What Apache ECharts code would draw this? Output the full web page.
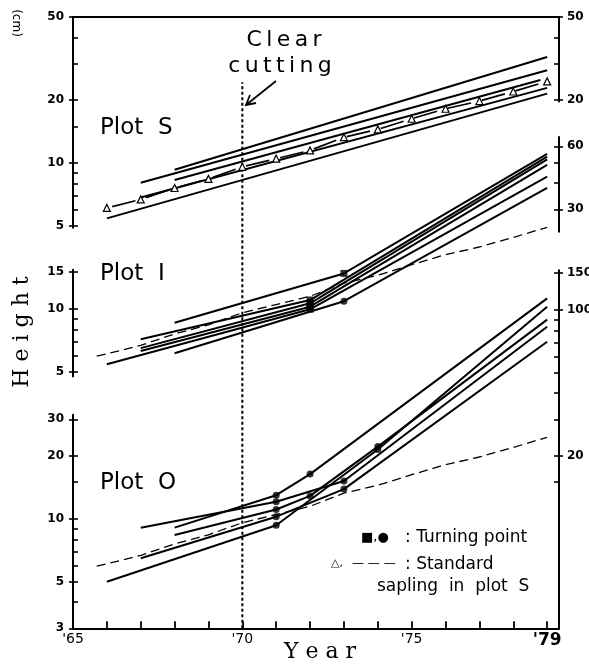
<!DOCTYPE html>
<html>
<head>
<meta charset="utf-8">
<script src="https://cdn.jsdelivr.net/npm/echarts@6/dist/echarts.min.js"></script>
<style>
  html, body { margin: 0; padding: 0; background: #fff; }
  #chart { width: 589px; height: 664px; }
</style>
</head>
<body>
<div id="chart"></div>
<script>
// ---- shared year axis ----
const yearMin = 65;
const yearMax = 79.35;
const yearTicks = [65, 66, 67, 68, 69, 70, 71, 72, 73, 74, 75, 76, 77, 78, 79];
const yearLabels = [65, 70, 75, 79];
const cutYear = 70;

// ---- standard sapling in plot S (height, cm) ----
const saplingYears = [66, 67, 68, 69, 70, 71, 72, 73, 74, 75, 76, 77, 78, 79];
const saplingHeights = [6.1, 6.7, 7.6, 8.4, 9.6, 10.5, 11.5, 13.3, 14.5, 16.3, 18.2, 19.8, 22.0, 24.6];
const saplingDashStart = [65.7, 5.95];

// ---- Plot S saplings: [year, height] ----
const plotS = [
  [[68, 9.3], [79, 32.2]],
  [[67, 8.05], [79, 27.8]],
  [[68, 8.3], [78.8, 25.0]],
  [[67, 6.85], [79, 22.9]],
  [[66, 5.44], [79, 21.5]]
];

// ---- Plot I saplings (inner vertices are turning points) ----
const plotI = [
  [[68, 8.6], [73, 14.8], [79, 55.2]],
  [[67, 7.16], [72, 11.04], [79, 53.6]],
  [[67, 6.5], [72, 10.65], [79, 52.0]],
  [[67, 6.3], [72, 10.26], [79, 48.9]],
  [[66, 5.44], [72, 9.97], [79, 43.0]],
  [[68, 6.14], [73, 10.9], [79, 38.0]]
];
const plotIMarks = ['rect', 'rect', 'rect', 'rect', 'rect', 'circle'];

// ---- Plot O saplings ----
const plotO = [
  [[68, 9.09], [71, 13.0], [72, 16.4], [79, 113.7]],
  [[67, 9.09], [71, 12.1], [73, 15.2], [79, 83.2]],
  [[68, 8.38], [71, 11.1], [72, 12.9], [74, 22.2], [79, 89.9]],
  [[67, 6.49], [71, 10.26], [73, 13.9], [79, 70.5]],
  [[66, 5.01], [71, 9.33], [74, 21.5], [79, 103.6]]
];
const plotOMarks = ['circle', 'circle', 'circle', 'circle', 'circle'];

// ---- axis segments: [min, max], labelled values, tick values ----
const sLeftRange = [4.9, 50],  sLeftLabels = [5, 10, 20, 50],  sLeftTicks = [5, 6, 7, 8, 9, 10, 15, 20, 30, 40, 50];
const sRightRange = [19.7, 50], sRightLabels = [20, 50],       sRightTicks = [20, 30, 40, 50];
const iLeftRange = [4.75, 15.4], iLeftLabels = [5, 10, 15],    iLeftTicks = [5, 6, 7, 8, 9, 10, 15];
const iRightRange = [23.4, 66.5], iRightLabels = [30, 60],     iRightTicks = [30, 40, 50, 60];
const oLeftRange = [3, 31.5],  oLeftLabels = [3, 5, 10, 20, 30], oLeftTicks = [3, 4, 5, 6, 7, 8, 9, 10, 15, 20, 30];
const oRightRange = [3, 155],  oRightLabels = [20, 100, 150],  oRightTicks = [15, 20, 30, 40, 50, 60, 70, 80, 90, 100, 150];
const cutLineRange = [3, 1230];

// ---- layout: every panel uses the same log scale ----
const PX_PER_DECADE = 209;
const PLOT_LEFT = 73, PLOT_RIGHT = 559;
const anchorS = [50, 17], anchorI = [10, 309], anchorO = [10, 519];

function band(anchor, range) {
  return {
    top: anchor[1] - PX_PER_DECADE * Math.log10(range[1] / anchor[0]),
    height: PX_PER_DECADE * Math.log10(range[1] / range[0])
  };
}

const grid = [], xAxis = [], yAxis = [], series = [];
const BLACK = '#000';
const SANS = 'DejaVu Sans';
const SERIF = 'DejaVu Serif';

function addGrid(anchor, range, xCfg) {
  const b = band(anchor, range);
  const g = grid.length;
  grid.push({ left: PLOT_LEFT, width: PLOT_RIGHT - PLOT_LEFT, top: b.top, height: b.height,
              containLabel: false, outerBoundsMode: 'none' });
  xAxis.push(Object.assign({ type: 'value', gridIndex: g, min: yearMin, max: yearMax, show: false,
                             splitLine: { show: false } }, xCfg || {}));
  return g;
}

function addY(g, side, range, labels, ticks) {
  const idx = yAxis.length;
  yAxis.push({
    type: 'log', logBase: 10, gridIndex: g, position: side, offset: 0,
    min: range[0], max: range[1],
    axisLine: { show: true, lineStyle: { color: BLACK, width: 2 } },
    axisTick: { show: true, inside: false, length: 4, customValues: labels,
                lineStyle: { color: BLACK, width: 1.6 } },
    axisLabel: { show: true, customValues: labels, margin: side === 'left' ? 9 : 8,
                 color: BLACK, fontSize: 12, fontWeight: 'bold', fontFamily: SANS,
                 formatter: v => String(Math.round(v)) },
    splitLine: { show: false }
  });
  yAxis.push({
    type: 'log', logBase: 10, gridIndex: g, position: side, offset: 0,
    min: range[0], max: range[1],
    axisLine: { show: false }, axisLabel: { show: false }, splitLine: { show: false },
    axisTick: { show: true, inside: true, length: 5, customValues: ticks,
                lineStyle: { color: BLACK, width: 1.6 } }
  });
  return idx;
}

function addLines(g, yIdx, lines, marks) {
  lines.forEach((pts, i) => {
    series.push({
      type: 'line', xAxisIndex: g, yAxisIndex: yIdx, data: pts, clip: false,
      symbol: 'none', silent: true, z: 3,
      lineStyle: { color: BLACK, width: 2 }
    });
    if (marks && pts.length > 2) {
      series.push({
        type: 'scatter', xAxisIndex: g, yAxisIndex: yIdx, clip: false, silent: true, z: 4,
        data: pts.slice(1, -1), symbol: marks[i], symbolSize: 7,
        itemStyle: { color: BLACK }
      });
    }
  });
}

function saplingData(withStart) {
  const d = saplingYears.map((y, i) => [y, saplingHeights[i]]);
  return withStart ? [saplingDashStart].concat(d) : d;
}

// Plot S
const gS = addGrid(anchorS, sLeftRange, {
  show: true, position: 'top',
  axisLine: { show: true, lineStyle: { color: BLACK, width: 2 } },
  axisTick: { show: false }, axisLabel: { show: false }
});
const yS = addY(gS, 'left', sLeftRange, sLeftLabels, sLeftTicks);
const gSR = addGrid(anchorS, sRightRange);
addY(gSR, 'right', sRightRange, sRightLabels, sRightTicks);

// Plot I
const gI = addGrid(anchorI, iLeftRange);
const yI = addY(gI, 'left', iLeftRange, iLeftLabels, iLeftTicks);
const gIR = addGrid(anchorI, iRightRange);
addY(gIR, 'right', iRightRange, iRightLabels, iRightTicks);

// Plot O (carries the year axis)
const gO = addGrid(anchorO, oLeftRange, {
  show: true, position: 'bottom',
  axisLine: { show: true, lineStyle: { color: BLACK, width: 2 } },
  axisTick: { show: true, inside: true, length: 7, customValues: yearTicks,
              lineStyle: { color: BLACK, width: 1.8 } },
  axisLabel: {
    show: true, customValues: yearLabels, margin: 4, color: BLACK,
    fontSize: 14, fontFamily: SANS,
    formatter: v => { const y = Math.round(v); return y === 79 ? '{big|\'' + y + '}' : '\'' + y; },
    rich: { big: { fontSize: 17, fontWeight: 'bold', fontFamily: SANS, color: BLACK } }
  }
});
const yO = addY(gO, 'left', oLeftRange, oLeftLabels, oLeftTicks);
const gOR = addGrid(anchorO, oRightRange);
addY(gOR, 'right', oRightRange, oRightLabels, oRightTicks);

// clear-cutting year
series.push({
  type: 'line', xAxisIndex: gO, yAxisIndex: yO, clip: false, silent: true, symbol: 'none', z: 2,
  data: [[cutYear, cutLineRange[0]], [cutYear, cutLineRange[1]]],
  lineStyle: { color: BLACK, width: 2, type: [3, 2.5] }
});

// standard sapling: triangles in plot S, dashed reference in plots I and O
series.push({
  type: 'line', xAxisIndex: gS, yAxisIndex: yS, clip: false, silent: true, z: 3,
  data: saplingData(false), symbol: 'triangle', symbolSize: 7, showSymbol: true,
  itemStyle: { color: '#fff', borderColor: BLACK, borderWidth: 1.2 },
  lineStyle: { color: BLACK, width: 1.7, type: [24, 11], dashOffset: 29.5 }
});
[[gI, yI], [gO, yO]].forEach(([g, y]) => {
  series.push({
    type: 'line', xAxisIndex: g, yAxisIndex: y, clip: false, silent: true, symbol: 'none', z: 2,
    data: saplingData(true),
    lineStyle: { color: BLACK, width: 1.3, type: [9, 5] }
  });
});

addLines(gS, yS, plotS, null);
addLines(gI, yI, plotI, plotIMarks);
addLines(gO, yO, plotO, plotOMarks);

// text annotations
const T = (text, x, y, opts) => Object.assign({
  type: 'text', x: x, y: y, silent: true,
  style: Object.assign({ text: text, fill: BLACK, font: '17px ' + SANS, textAlign: 'left', textVerticalAlign: 'middle' }, opts && opts.style)
}, opts && opts.el);

const THIN = '\u2009';
const spaced = s => s.split('').join(THIN);

const graphic = [
  T(spaced('Clear'), 284, 40, { style: { font: '22px ' + SANS, textAlign: 'center' } }),
  T(spaced('cutting'), 280, 66, { style: { font: '22px ' + SANS, textAlign: 'center' } }),
  { type: 'line', silent: true, shape: { x1: 276, y1: 81, x2: 246, y2: 105 }, style: { stroke: BLACK, lineWidth: 1.8 } },
  { type: 'polyline', silent: true, shape: { points: [[250, 95], [246, 105], [256, 103]] }, style: { stroke: BLACK, lineWidth: 1.8, fill: null } },
  T('Plot  S', 100, 128, { style: { font: '23px ' + SANS } }),
  T('Plot  I', 100, 274, { style: { font: '23px ' + SANS } }),
  T('Plot  O', 100, 483, { style: { font: '23px ' + SANS } }),
  T('(cm)', 16, 23, { style: { font: '12px ' + SANS, textAlign: 'center' }, el: { rotation: -Math.PI / 2 } }),
  T('H e i g h t', 22, 332, { style: { font: '22px ' + SERIF, textAlign: 'center' }, el: { rotation: Math.PI / 2 } }),
  T('Y e a r', 320, 652, { style: { font: '22px ' + SERIF, textAlign: 'center' } }),
  T('\u25A0,\u25CF', 361, 538, { style: { font: '13px ' + SANS } }),
  T(': Turning point', 405, 538),
  T('\u25B3,', 331, 563, { style: { font: '11px ' + SANS } }),
  T('\u2014 \u2014 \u2014', 352, 564, { style: { font: '12px ' + SANS } }),
  T(': Standard', 405, 565),
  T('sapling  in  plot  S', 377, 587)
];

const chart = echarts.init(document.getElementById('chart'), null, { renderer: 'canvas' });
chart.setOption({
  animation: false,
  backgroundColor: '#fff',
  grid: grid, xAxis: xAxis, yAxis: yAxis, series: series, graphic: graphic
});
</script>
</body>
</html>
